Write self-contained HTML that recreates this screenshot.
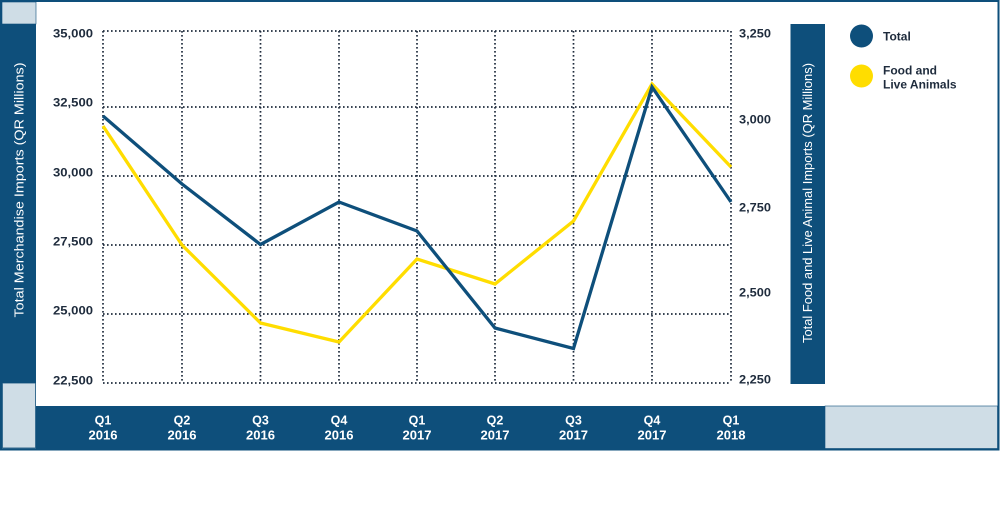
<!DOCTYPE html>
<html><head><meta charset="utf-8"><style>
html,body{margin:0;padding:0;background:#fff;}
svg{display:block;font-family:"Liberation Sans",Arial,sans-serif;}
</style></head><body>
<svg width="1000" height="509" viewBox="0 0 1000 509" xmlns="http://www.w3.org/2000/svg">
<rect x="0" y="0" width="1000" height="509" fill="#fff"/>
<!-- outer frame -->
<rect x="1" y="1" width="997.5" height="448.5" fill="#fff" stroke="#0e4f7b" stroke-width="2"/>
<!-- top-left light box -->
<rect x="2" y="2" width="34" height="22" fill="#cfdde6" stroke="#0e4f7b" stroke-width="0.6"/>
<!-- left bar -->
<rect x="2" y="24" width="34" height="359" fill="#0e4f7b"/>
<!-- bottom-left light box -->
<rect x="2.5" y="383" width="33" height="65" fill="#cfdde6" stroke="#0e4f7b" stroke-width="0.8"/>
<!-- bottom bar -->
<rect x="36" y="406" width="789" height="42.5" fill="#0e4f7b"/>
<!-- bottom-right light box -->
<rect x="825" y="406" width="172.5" height="42.5" fill="#cfdde6" stroke="#0e4f7b" stroke-width="0.6"/>
<!-- right bar -->
<rect x="790.5" y="24" width="34.5" height="360" fill="#0e4f7b"/>

<!-- grid -->
<g stroke="#1e2b3c" stroke-width="1.7" stroke-dasharray="1.6 2.4" fill="none">
<line x1="103" y1="31" x2="731" y2="31"/>
<line x1="103" y1="107" x2="731" y2="107"/>
<line x1="103" y1="176" x2="731" y2="176"/>
<line x1="103" y1="245" x2="731" y2="245"/>
<line x1="103" y1="314" x2="731" y2="314"/>
<line x1="103" y1="383" x2="731" y2="383"/>
<line x1="103" y1="31" x2="103" y2="383"/>
<line x1="182" y1="31" x2="182" y2="383"/>
<line x1="260.5" y1="31" x2="260.5" y2="383"/>
<line x1="339" y1="31" x2="339" y2="383"/>
<line x1="417" y1="31" x2="417" y2="383"/>
<line x1="495" y1="31" x2="495" y2="383"/>
<line x1="573.5" y1="31" x2="573.5" y2="383"/>
<line x1="652" y1="31" x2="652" y2="383"/>
<line x1="731" y1="31" x2="731" y2="383"/>
</g>

<!-- series -->
<polyline fill="none" stroke="#ffdd00" stroke-width="3.3" stroke-linejoin="miter"
 points="103,126 182,245 260.5,323 339,342 417,259 495,284 573.5,221 652,84 731,167"/>
<polyline fill="none" stroke="#0e4f7b" stroke-width="3.3" stroke-linejoin="miter"
 points="103,116 182,184 260.5,244.5 339,202 417,231 495,328 573.5,348.5 652,87 731,202"/>

<!-- left tick labels -->
<g fill="#1e2b3c" font-size="12" font-weight="bold" text-anchor="end">
<text x="93" y="37.5" textLength="40" lengthAdjust="spacingAndGlyphs">35,000</text>
<text x="93" y="106.5" textLength="40" lengthAdjust="spacingAndGlyphs">32,500</text>
<text x="93" y="176.5" textLength="40" lengthAdjust="spacingAndGlyphs">30,000</text>
<text x="93" y="245.5" textLength="40" lengthAdjust="spacingAndGlyphs">27,500</text>
<text x="93" y="314.5" textLength="40" lengthAdjust="spacingAndGlyphs">25,000</text>
<text x="93" y="384.5" textLength="40" lengthAdjust="spacingAndGlyphs">22,500</text>
</g>
<!-- right tick labels -->
<g fill="#1e2b3c" font-size="12" font-weight="bold">
<text x="739" y="37.5" textLength="32" lengthAdjust="spacingAndGlyphs">3,250</text>
<text x="739" y="123.5" textLength="32" lengthAdjust="spacingAndGlyphs">3,000</text>
<text x="739" y="211.5" textLength="32" lengthAdjust="spacingAndGlyphs">2,750</text>
<text x="739" y="296.5" textLength="32" lengthAdjust="spacingAndGlyphs">2,500</text>
<text x="739" y="383.5" textLength="32" lengthAdjust="spacingAndGlyphs">2,250</text>
</g>

<!-- x labels -->
<g fill="#fff" font-size="12.5" font-weight="bold" text-anchor="middle">
<text x="103" y="424.5">Q1</text><text x="103" y="439.5" textLength="29" lengthAdjust="spacingAndGlyphs">2016</text>
<text x="182" y="424.5">Q2</text><text x="182" y="439.5" textLength="29" lengthAdjust="spacingAndGlyphs">2016</text>
<text x="260.5" y="424.5">Q3</text><text x="260.5" y="439.5" textLength="29" lengthAdjust="spacingAndGlyphs">2016</text>
<text x="339" y="424.5">Q4</text><text x="339" y="439.5" textLength="29" lengthAdjust="spacingAndGlyphs">2016</text>
<text x="417" y="424.5">Q1</text><text x="417" y="439.5" textLength="29" lengthAdjust="spacingAndGlyphs">2017</text>
<text x="495" y="424.5">Q2</text><text x="495" y="439.5" textLength="29" lengthAdjust="spacingAndGlyphs">2017</text>
<text x="573.5" y="424.5">Q3</text><text x="573.5" y="439.5" textLength="29" lengthAdjust="spacingAndGlyphs">2017</text>
<text x="652" y="424.5">Q4</text><text x="652" y="439.5" textLength="29" lengthAdjust="spacingAndGlyphs">2017</text>
<text x="731" y="424.5">Q1</text><text x="731" y="439.5" textLength="29" lengthAdjust="spacingAndGlyphs">2018</text>
</g>

<!-- axis titles -->
<text transform="translate(23.5,190) rotate(-90)" fill="#fff" font-size="12.5" text-anchor="middle" textLength="255" lengthAdjust="spacingAndGlyphs">Total Merchandise Imports (QR Millions)</text>
<text transform="translate(812,203) rotate(-90)" fill="#fff" font-size="12.5" text-anchor="middle" textLength="280" lengthAdjust="spacingAndGlyphs">Total Food and Live Animal Imports (QR Millions)</text>

<!-- legend -->
<circle cx="861.5" cy="36" r="11.5" fill="#0e4f7b"/>
<circle cx="861.5" cy="76" r="11.5" fill="#ffdd00"/>
<g fill="#1e2b3c" font-size="12" font-weight="bold">
<text x="883" y="40.5">Total</text>
<text x="883" y="74.5">Food and</text>
<text x="883" y="88.5">Live Animals</text>
</g>
</svg>
</body></html>
